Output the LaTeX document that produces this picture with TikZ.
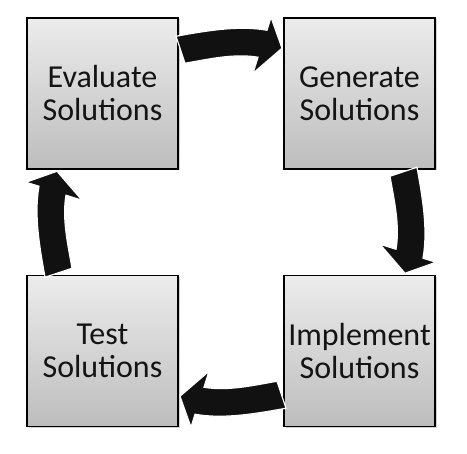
\documentclass[tikz,border=0pt]{standalone}
\usepackage{fontspec}
\setmainfont{Carlito}
\usetikzlibrary{shadows,calc}
\definecolor{boxtop}{RGB}{236,236,236}
\definecolor{boxbot}{RGB}{189,189,189}
\definecolor{arrowfill}{RGB}{17,17,17}
\definecolor{txt}{RGB}{20,20,20}
\tikzset{
  stagebox/.style={draw=black, line width=1.1pt, minimum width=151pt, minimum height=151pt,
    inner sep=0pt, top color=boxtop, bottom color=boxbot, align=center, text=txt,
    font=\fontsize{32}{33}\selectfont,
    drop shadow={shadow xshift=1.5pt, shadow yshift=-1.5pt, opacity=0.35}},
  cyclearrow/.pic={
    \filldraw[fill=arrowfill, draw=white, line width=1.2pt, line join=miter]
      (-55,186) .. controls (-25.5,191.2) and (6.5,197.2) .. (36,192)
      -- (40,205) -- (51,174) -- (22,149) -- (27,165)
      .. controls (3.4,169.1) and (-22.4,163.1) .. (-46,159) -- cycle;
  }
}
\begin{document}
\begin{tikzpicture}[x=1pt,y=1pt]
  \useasboundingbox (0,0) rectangle (467,-454);
  \node[stagebox] (eval) at (102.5,-93.5) {Evaluate\\Solutions};
  \node[stagebox] (gen)  at (359.5,-93.5) {Generate\\Solutions};
  \node[stagebox] (impl) at (359.5,-351) {Implement\\Solutions};
  \node[stagebox] (test) at (102.5,-351) {Test\\Solutions};
  \coordinate (c) at ($(eval.center)!0.5!(impl.center)$);
  \pic[rotate=0]   at (c) {cyclearrow};
  \pic[rotate=-90] at (c) {cyclearrow};
  \pic[rotate=180] at (c) {cyclearrow};
  \pic[rotate=90]  at (c) {cyclearrow};
\end{tikzpicture}
\end{document}
